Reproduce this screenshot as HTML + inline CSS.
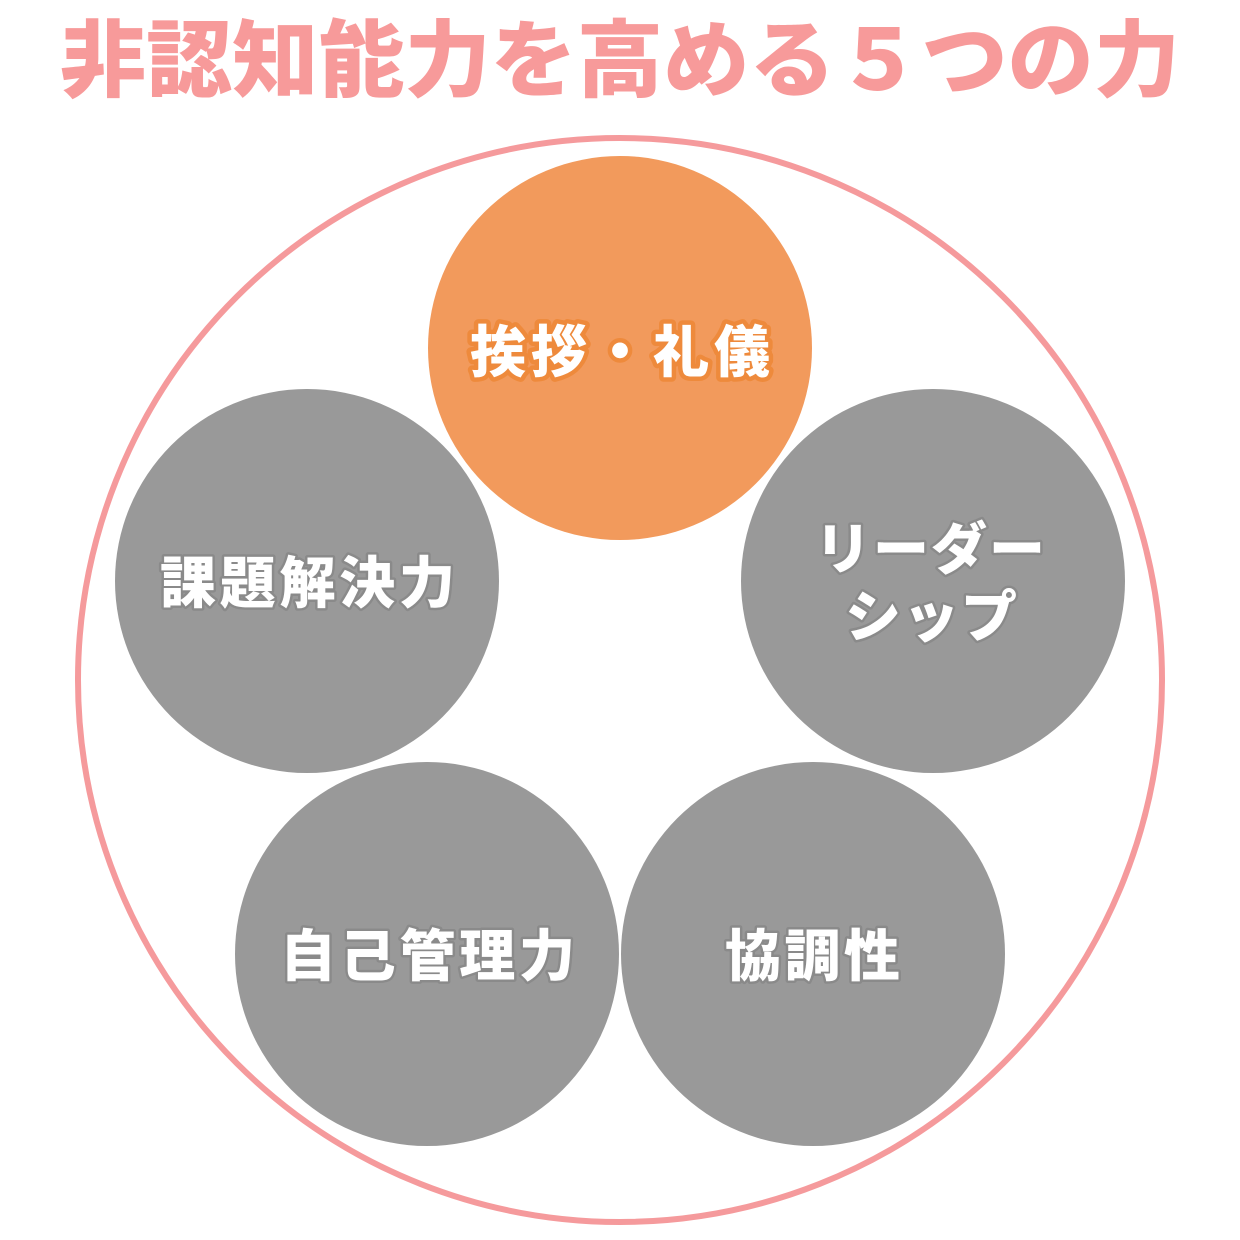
<!DOCTYPE html>
<html><head><meta charset="utf-8"><style>
html,body{margin:0;padding:0;background:#fff;}
svg{display:block}
text{font-family:"Liberation Sans","Noto Sans CJK JP",sans-serif;font-weight:900;}
</style></head><body>
<svg width="1240" height="1240" viewBox="0 0 1240 1240">
<text x="60" y="90" font-size="84" fill="#f79a9a" textLength="1120" lengthAdjust="spacingAndGlyphs">非認知能力を高める５つの力</text>
<circle cx="620" cy="680" r="542" fill="none" stroke="#f59a9c" stroke-width="6"/>
<circle cx="620" cy="348" r="192" fill="#f29a5c"/>
<circle cx="307" cy="581" r="192" fill="#999999"/>
<circle cx="933" cy="581" r="192" fill="#999999"/>
<circle cx="427" cy="954" r="192" fill="#999999"/>
<circle cx="813" cy="954" r="192" fill="#999999"/>
<g font-size="56" paint-order="stroke" stroke-linejoin="round" lengthAdjust="spacing">
<text x="470" y="372" fill="#fff" stroke="#ee8a3c" stroke-width="9" textLength="300">挨拶・礼儀</text>
<text x="160" y="603" fill="#fff" stroke="#8a8a8a" stroke-width="5" textLength="295">課題解決力</text>
<text x="815" y="569" fill="#fff" stroke="#8a8a8a" stroke-width="5" textLength="230">リーダー</text>
<text x="845" y="637" fill="#fff" stroke="#8a8a8a" stroke-width="5" textLength="172">シップ</text>
<text x="280" y="976" fill="#fff" stroke="#8a8a8a" stroke-width="5" textLength="295">自己管理力</text>
<text x="725" y="976" fill="#fff" stroke="#8a8a8a" stroke-width="5" textLength="175">協調性</text>
</g>
</svg>
</body></html>
